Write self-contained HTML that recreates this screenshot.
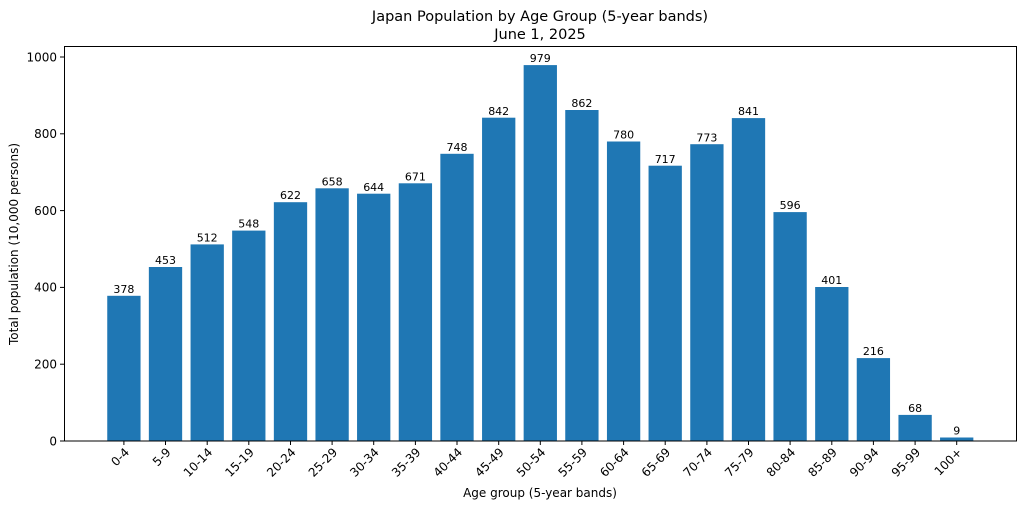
<!DOCTYPE html><html><head><meta charset="utf-8"><style>body{margin:0;background:#fff}svg{display:block;font-family:"DejaVu Sans","Liberation Sans",sans-serif}</style></head><body>
<svg width="1024" height="508" xmlns="http://www.w3.org/2000/svg">
<rect width="1024" height="508" fill="#fff"/>
<text x="540" y="21" font-size="14.5" text-anchor="middle" fill="#000">Japan Population by Age Group (5-year bands)</text>
<text x="540" y="39" font-size="14.5" text-anchor="middle" fill="#000">June 1, 2025</text>
<g fill="#1f77b4">
<rect x="107.25" y="295.8" width="33.3" height="145.2"/>
<rect x="148.85" y="267.0" width="33.3" height="174.0"/>
<rect x="190.55" y="244.4" width="33.3" height="196.6"/>
<rect x="232.15" y="230.6" width="33.3" height="210.4"/>
<rect x="273.85" y="202.2" width="33.3" height="238.8"/>
<rect x="315.45" y="188.3" width="33.3" height="252.7"/>
<rect x="357.05" y="193.7" width="33.3" height="247.3"/>
<rect x="398.75" y="183.3" width="33.3" height="257.7"/>
<rect x="440.35" y="153.8" width="33.3" height="287.2"/>
<rect x="482.05" y="117.7" width="33.3" height="323.3"/>
<rect x="523.65" y="65.1" width="33.3" height="375.9"/>
<rect x="565.25" y="110.0" width="33.3" height="331.0"/>
<rect x="606.95" y="141.5" width="33.3" height="299.5"/>
<rect x="648.55" y="165.7" width="33.3" height="275.3"/>
<rect x="690.25" y="144.2" width="33.3" height="296.8"/>
<rect x="731.85" y="118.1" width="33.3" height="322.9"/>
<rect x="773.45" y="212.1" width="33.3" height="228.9"/>
<rect x="815.15" y="287.0" width="33.3" height="154.0"/>
<rect x="856.75" y="358.1" width="33.3" height="82.9"/>
<rect x="898.45" y="414.9" width="33.3" height="26.1"/>
<rect x="940.05" y="437.5" width="33.3" height="3.5"/>
</g>
<g font-size="11" text-anchor="middle" fill="#000">
<text x="123.9" y="293">378</text><text x="165.5" y="264">453</text><text x="207.2" y="241.5">512</text><text x="248.8" y="227.5">548</text><text x="290.5" y="199">622</text><text x="332.1" y="185.5">658</text><text x="373.7" y="191">644</text><text x="415.4" y="180.5">671</text><text x="457.0" y="151">748</text><text x="498.7" y="115">842</text><text x="540.3" y="62">979</text><text x="581.9" y="107">862</text><text x="623.6" y="138.5">780</text><text x="665.2" y="163">717</text><text x="706.9" y="141.5">773</text><text x="748.5" y="115">841</text><text x="790.1" y="209">596</text><text x="831.8" y="284">401</text><text x="873.4" y="355">216</text><text x="915.1" y="412">68</text><text x="956.7" y="434.5">9</text>
</g>
<rect x="64.5" y="46.5" width="952" height="394.5" fill="none" stroke="#000" stroke-width="1"/>
<g stroke="#000" stroke-width="1">
<line x1="60" y1="441" x2="64" y2="441"/><line x1="60" y1="364.2" x2="64" y2="364.2"/><line x1="60" y1="287.4" x2="64" y2="287.4"/><line x1="60" y1="210.6" x2="64" y2="210.6"/><line x1="60" y1="133.8" x2="64" y2="133.8"/><line x1="60" y1="57" x2="64" y2="57"/>
</g>
<g font-size="12" text-anchor="end" fill="#000">
<text x="57" y="445.5">0</text><text x="57" y="368.5">200</text><text x="57" y="291.5">400</text><text x="57" y="215">600</text><text x="57" y="138">800</text><text x="57" y="61.5">1000</text>
</g>
<g stroke="#000" stroke-width="1">
<line x1="123.9" y1="441" x2="123.9" y2="445"/><line x1="165.5" y1="441" x2="165.5" y2="445"/><line x1="207.2" y1="441" x2="207.2" y2="445"/><line x1="248.8" y1="441" x2="248.8" y2="445"/><line x1="290.5" y1="441" x2="290.5" y2="445"/><line x1="332.1" y1="441" x2="332.1" y2="445"/><line x1="373.7" y1="441" x2="373.7" y2="445"/><line x1="415.4" y1="441" x2="415.4" y2="445"/><line x1="457.0" y1="441" x2="457.0" y2="445"/><line x1="498.7" y1="441" x2="498.7" y2="445"/><line x1="540.3" y1="441" x2="540.3" y2="445"/><line x1="581.9" y1="441" x2="581.9" y2="445"/><line x1="623.6" y1="441" x2="623.6" y2="445"/><line x1="665.2" y1="441" x2="665.2" y2="445"/><line x1="706.9" y1="441" x2="706.9" y2="445"/><line x1="748.5" y1="441" x2="748.5" y2="445"/><line x1="790.1" y1="441" x2="790.1" y2="445"/><line x1="831.8" y1="441" x2="831.8" y2="445"/><line x1="873.4" y1="441" x2="873.4" y2="445"/><line x1="915.1" y1="441" x2="915.1" y2="445"/><line x1="956.7" y1="441" x2="956.7" y2="445"/>
</g>
<g font-size="12" text-anchor="end" fill="#000">
<text transform="translate(130,453) rotate(-45)">0-4</text>
<text transform="translate(171.5,453) rotate(-45)">5-9</text>
<text transform="translate(213.2,453) rotate(-45)">10-14</text>
<text transform="translate(254.8,453) rotate(-45)">15-19</text>
<text transform="translate(296.5,453) rotate(-45)">20-24</text>
<text transform="translate(338.1,453) rotate(-45)">25-29</text>
<text transform="translate(379.7,453) rotate(-45)">30-34</text>
<text transform="translate(421.4,453) rotate(-45)">35-39</text>
<text transform="translate(463.0,453) rotate(-45)">40-44</text>
<text transform="translate(504.7,453) rotate(-45)">45-49</text>
<text transform="translate(546.3,453) rotate(-45)">50-54</text>
<text transform="translate(587.9,453) rotate(-45)">55-59</text>
<text transform="translate(629.6,453) rotate(-45)">60-64</text>
<text transform="translate(671.2,453) rotate(-45)">65-69</text>
<text transform="translate(712.9,453) rotate(-45)">70-74</text>
<text transform="translate(754.5,453) rotate(-45)">75-79</text>
<text transform="translate(796.1,453) rotate(-45)">80-84</text>
<text transform="translate(837.8,453) rotate(-45)">85-89</text>
<text transform="translate(879.4,453) rotate(-45)">90-94</text>
<text transform="translate(921.1,453) rotate(-45)">95-99</text>
<text transform="translate(962.7,453) rotate(-45)">100+</text>
</g>
<text x="540" y="497" font-size="12" text-anchor="middle" fill="#000">Age group (5-year bands)</text>
<text transform="translate(18,244) rotate(-90)" font-size="12" text-anchor="middle" fill="#000">Total population (10,000 persons)</text>
</svg>
</body></html>
